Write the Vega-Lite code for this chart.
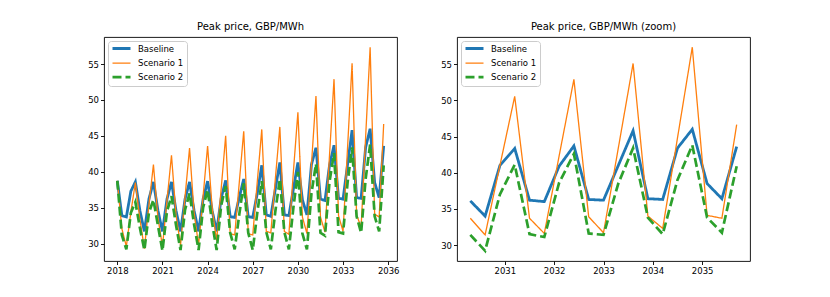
{
 "$schema": "https://vega.github.io/schema/vega-lite/v6.json",
 "padding": {"left": 87, "top": 21, "right": 5, "bottom": 5},
 "datasets": {
  "peak": [
   {"t":2018.0,"s":"Baseline","v":38.75},{"t":2018.3,"s":"Baseline","v":33.9},{"t":2018.6,"s":"Baseline","v":33.7},{"t":2018.9,"s":"Baseline","v":37.3},
   {"t":2019.2,"s":"Baseline","v":38.6},{"t":2019.5,"s":"Baseline","v":34.6},{"t":2019.8,"s":"Baseline","v":31.7},{"t":2020.1,"s":"Baseline","v":36.2},
   {"t":2020.4,"s":"Baseline","v":38.6},{"t":2020.7,"s":"Baseline","v":34.6},{"t":2021.0,"s":"Baseline","v":31.7},{"t":2021.3,"s":"Baseline","v":36.2},
   {"t":2021.6,"s":"Baseline","v":38.6},{"t":2021.9,"s":"Baseline","v":34.6},{"t":2022.2,"s":"Baseline","v":31.7},{"t":2022.5,"s":"Baseline","v":36.2},
   {"t":2022.8,"s":"Baseline","v":38.6},{"t":2023.1,"s":"Baseline","v":34.6},{"t":2023.4,"s":"Baseline","v":31.7},{"t":2023.7,"s":"Baseline","v":36.2},
   {"t":2024.0,"s":"Baseline","v":38.7},{"t":2024.3,"s":"Baseline","v":34.6},{"t":2024.6,"s":"Baseline","v":31.7},{"t":2024.9,"s":"Baseline","v":36.3},
   {"t":2025.2,"s":"Baseline","v":38.8},{"t":2025.5,"s":"Baseline","v":33.75},{"t":2025.8,"s":"Baseline","v":33.65},{"t":2026.1,"s":"Baseline","v":36.4},
   {"t":2026.4,"s":"Baseline","v":39.0},{"t":2026.7,"s":"Baseline","v":33.75},{"t":2027.0,"s":"Baseline","v":33.65},{"t":2027.3,"s":"Baseline","v":37.0},
   {"t":2027.6,"s":"Baseline","v":40.9},{"t":2027.9,"s":"Baseline","v":34.0},{"t":2028.2,"s":"Baseline","v":33.8},{"t":2028.5,"s":"Baseline","v":37.6},
   {"t":2028.8,"s":"Baseline","v":41.3},{"t":2029.1,"s":"Baseline","v":34.0},{"t":2029.4,"s":"Baseline","v":33.9},{"t":2029.7,"s":"Baseline","v":37.6},
   {"t":2030.0,"s":"Baseline","v":41.3},{"t":2030.3,"s":"Baseline","v":36.1},{"t":2030.6,"s":"Baseline","v":34.0},{"t":2030.9,"s":"Baseline","v":41.0},
   {"t":2031.2,"s":"Baseline","v":43.35},{"t":2031.5,"s":"Baseline","v":36.2},{"t":2031.8,"s":"Baseline","v":36.0},{"t":2032.1,"s":"Baseline","v":40.9},
   {"t":2032.4,"s":"Baseline","v":43.7},{"t":2032.7,"s":"Baseline","v":36.3},{"t":2033.0,"s":"Baseline","v":36.2},{"t":2033.3,"s":"Baseline","v":41.0},
   {"t":2033.6,"s":"Baseline","v":45.8},{"t":2033.9,"s":"Baseline","v":36.4},{"t":2034.2,"s":"Baseline","v":36.3},{"t":2034.5,"s":"Baseline","v":43.4},
   {"t":2034.8,"s":"Baseline","v":46.0},{"t":2035.1,"s":"Baseline","v":38.5},{"t":2035.4,"s":"Baseline","v":36.4},{"t":2035.7,"s":"Baseline","v":43.6},

   {"t":2018.0,"s":"Scenario 1","v":38.75},{"t":2018.3,"s":"Scenario 1","v":32.1},{"t":2018.6,"s":"Scenario 1","v":29.6},{"t":2018.9,"s":"Scenario 1","v":34.4},
   {"t":2019.2,"s":"Scenario 1","v":38.5},{"t":2019.5,"s":"Scenario 1","v":33.4},{"t":2019.8,"s":"Scenario 1","v":29.3},{"t":2020.1,"s":"Scenario 1","v":35.4},
   {"t":2020.4,"s":"Scenario 1","v":41.0},{"t":2020.7,"s":"Scenario 1","v":33.6},{"t":2021.0,"s":"Scenario 1","v":29.6},{"t":2021.3,"s":"Scenario 1","v":36.0},
   {"t":2021.6,"s":"Scenario 1","v":42.3},{"t":2021.9,"s":"Scenario 1","v":34.0},{"t":2022.2,"s":"Scenario 1","v":29.8},{"t":2022.5,"s":"Scenario 1","v":36.5},
   {"t":2022.8,"s":"Scenario 1","v":43.3},{"t":2023.1,"s":"Scenario 1","v":34.3},{"t":2023.4,"s":"Scenario 1","v":29.8},{"t":2023.7,"s":"Scenario 1","v":36.6},
   {"t":2024.0,"s":"Scenario 1","v":43.6},{"t":2024.3,"s":"Scenario 1","v":35.0},{"t":2024.6,"s":"Scenario 1","v":30.4},{"t":2024.9,"s":"Scenario 1","v":37.6},
   {"t":2025.2,"s":"Scenario 1","v":45.0},{"t":2025.5,"s":"Scenario 1","v":31.4},{"t":2025.8,"s":"Scenario 1","v":31.2},{"t":2026.1,"s":"Scenario 1","v":38.4},
   {"t":2026.4,"s":"Scenario 1","v":45.65},{"t":2026.7,"s":"Scenario 1","v":31.4},{"t":2027.0,"s":"Scenario 1","v":31.2},{"t":2027.3,"s":"Scenario 1","v":38.6},
   {"t":2027.6,"s":"Scenario 1","v":45.9},{"t":2027.9,"s":"Scenario 1","v":31.7},{"t":2028.2,"s":"Scenario 1","v":31.5},{"t":2028.5,"s":"Scenario 1","v":39.0},
   {"t":2028.8,"s":"Scenario 1","v":46.25},{"t":2029.1,"s":"Scenario 1","v":31.7},{"t":2029.4,"s":"Scenario 1","v":31.3},{"t":2029.7,"s":"Scenario 1","v":40.0},
   {"t":2030.0,"s":"Scenario 1","v":48.3},{"t":2030.3,"s":"Scenario 1","v":33.7},{"t":2030.6,"s":"Scenario 1","v":31.4},{"t":2030.9,"s":"Scenario 1","v":41.0},
   {"t":2031.2,"s":"Scenario 1","v":50.55},{"t":2031.5,"s":"Scenario 1","v":33.7},{"t":2031.8,"s":"Scenario 1","v":31.6},{"t":2032.1,"s":"Scenario 1","v":42.3},
   {"t":2032.4,"s":"Scenario 1","v":52.9},{"t":2032.7,"s":"Scenario 1","v":33.9},{"t":2033.0,"s":"Scenario 1","v":31.7},{"t":2033.3,"s":"Scenario 1","v":43.4},
   {"t":2033.6,"s":"Scenario 1","v":55.1},{"t":2033.9,"s":"Scenario 1","v":34.0},{"t":2034.2,"s":"Scenario 1","v":32.3},{"t":2034.5,"s":"Scenario 1","v":44.8},
   {"t":2034.8,"s":"Scenario 1","v":57.35},{"t":2035.1,"s":"Scenario 1","v":34.1},{"t":2035.4,"s":"Scenario 1","v":33.7},{"t":2035.7,"s":"Scenario 1","v":46.65},

   {"t":2018.0,"s":"Scenario 2","v":38.75},{"t":2018.3,"s":"Scenario 2","v":31.2},{"t":2018.6,"s":"Scenario 2","v":29.2},{"t":2018.9,"s":"Scenario 2","v":34.3},
   {"t":2019.2,"s":"Scenario 2","v":35.8},{"t":2019.5,"s":"Scenario 2","v":32.2},{"t":2019.8,"s":"Scenario 2","v":29.1},{"t":2020.1,"s":"Scenario 2","v":34.3},
   {"t":2020.4,"s":"Scenario 2","v":36.1},{"t":2020.7,"s":"Scenario 2","v":32.5},{"t":2021.0,"s":"Scenario 2","v":29.0},{"t":2021.3,"s":"Scenario 2","v":34.5},
   {"t":2021.6,"s":"Scenario 2","v":36.6},{"t":2021.9,"s":"Scenario 2","v":32.6},{"t":2022.2,"s":"Scenario 2","v":29.1},{"t":2022.5,"s":"Scenario 2","v":34.7},
   {"t":2022.8,"s":"Scenario 2","v":37.0},{"t":2023.1,"s":"Scenario 2","v":32.7},{"t":2023.4,"s":"Scenario 2","v":29.1},{"t":2023.7,"s":"Scenario 2","v":35.0},
   {"t":2024.0,"s":"Scenario 2","v":37.5},{"t":2024.3,"s":"Scenario 2","v":32.9},{"t":2024.6,"s":"Scenario 2","v":29.1},{"t":2024.9,"s":"Scenario 2","v":35.3},
   {"t":2025.2,"s":"Scenario 2","v":38.0},{"t":2025.5,"s":"Scenario 2","v":31.5},{"t":2025.8,"s":"Scenario 2","v":29.2},{"t":2026.1,"s":"Scenario 2","v":34.0},
   {"t":2026.4,"s":"Scenario 2","v":38.4},{"t":2026.7,"s":"Scenario 2","v":31.5},{"t":2027.0,"s":"Scenario 2","v":29.1},{"t":2027.3,"s":"Scenario 2","v":34.3},
   {"t":2027.6,"s":"Scenario 2","v":38.7},{"t":2027.9,"s":"Scenario 2","v":31.6},{"t":2028.2,"s":"Scenario 2","v":29.2},{"t":2028.5,"s":"Scenario 2","v":34.5},
   {"t":2028.8,"s":"Scenario 2","v":39.0},{"t":2029.1,"s":"Scenario 2","v":31.6},{"t":2029.4,"s":"Scenario 2","v":29.2},{"t":2029.7,"s":"Scenario 2","v":35.0},
   {"t":2030.0,"s":"Scenario 2","v":40.0},{"t":2030.3,"s":"Scenario 2","v":31.4},{"t":2030.6,"s":"Scenario 2","v":29.2},{"t":2030.9,"s":"Scenario 2","v":37.0},
   {"t":2031.2,"s":"Scenario 2","v":41.1},{"t":2031.5,"s":"Scenario 2","v":31.5},{"t":2031.8,"s":"Scenario 2","v":31.1},{"t":2032.1,"s":"Scenario 2","v":38.6},
   {"t":2032.4,"s":"Scenario 2","v":42.6},{"t":2032.7,"s":"Scenario 2","v":31.6},{"t":2033.0,"s":"Scenario 2","v":31.4},{"t":2033.3,"s":"Scenario 2","v":38.5},
   {"t":2033.6,"s":"Scenario 2","v":43.4},{"t":2033.9,"s":"Scenario 2","v":33.8},{"t":2034.2,"s":"Scenario 2","v":31.5},{"t":2034.5,"s":"Scenario 2","v":39.0},
   {"t":2034.8,"s":"Scenario 2","v":43.8},{"t":2035.1,"s":"Scenario 2","v":33.8},{"t":2035.4,"s":"Scenario 2","v":31.7},{"t":2035.7,"s":"Scenario 2","v":40.9}
  ]
 },
 "config": {
  "font": "DejaVu Sans",
  "view": {"stroke": "#000", "strokeWidth": 0.9},
  "axis": {"grid": false, "domain": false, "tickColor": "#000", "tickSize": 3.5, "tickWidth": 0.9, "labelFontSize": 8.5, "labelColor": "#000", "labelPadding": 2, "labelFlush": false, "labelOverlap": false, "title": null},
  "title": {"fontSize": 10, "fontWeight": "normal", "color": "#000", "offset": 5, "baseline": "alphabetic"},
  "legend": {"orient": "top-left", "offset": 4, "fillColor": "#fff", "strokeColor": "#ccc", "cornerRadius": 3, "padding": 3, "rowPadding": 3.8, "labelFontSize": 8.5, "labelColor": "#000", "labelOffset": 18, "labelLimit": 0, "symbolType": "M-1,0H5", "symbolSize": 36},
  "concat": {"spacing": 40}
 },
 "resolve": {
  "scale": {"color": "independent", "strokeWidth": "independent", "strokeDash": "independent"},
  "legend": {"color": "independent", "strokeWidth": "independent", "strokeDash": "independent"}
 },
 "hconcat": [
  {
   "title": "Peak price, GBP/MWh",
   "width": 293, "height": 224,
   "data": {"name": "peak"},
   "mark": {"type": "line"},
   "encoding": {
    "x": {"field": "t", "type": "quantitative", "scale": {"domain": [2017.115, 2036.585], "nice": false, "zero": false}, "axis": {"values": [2018, 2021, 2024, 2027, 2030, 2033, 2036], "format": "d"}},
    "y": {"field": "v", "type": "quantitative", "scale": {"domain": [27.58, 58.77], "nice": false, "zero": false}, "axis": {"values": [30, 35, 40, 45, 50, 55]}},
    "color": {"field": "s", "type": "nominal", "scale": {"domain": ["Baseline", "Scenario 1", "Scenario 2"], "range": ["#1f77b4", "#ff7f0e", "#2ca02c"]}, "legend": {"title": null}},
    "strokeWidth": {"field": "s", "type": "nominal", "scale": {"type": "ordinal", "domain": ["Baseline", "Scenario 1", "Scenario 2"], "range": [2.8, 1.3, 2.7]}, "legend": {"title": null}},
    "strokeDash": {"field": "s", "type": "nominal", "scale": {"domain": ["Baseline", "Scenario 1", "Scenario 2"], "range": [[1, 0], [1, 0], [9, 4]]}, "legend": {"title": null}}
   }
  },
  {
   "title": "Peak price, GBP/MWh (zoom)",
   "width": 293, "height": 224,
   "data": {"name": "peak"},
   "transform": [{"filter": "datum.t > 2030.2"}],
   "mark": {"type": "line"},
   "encoding": {
    "x": {"field": "t", "type": "quantitative", "scale": {"domain": [2030.03, 2035.97], "nice": false, "zero": false}, "axis": {"values": [2031, 2032, 2033, 2034, 2035], "format": "d"}},
    "y": {"field": "v", "type": "quantitative", "scale": {"domain": [27.79, 58.76], "nice": false, "zero": false}, "axis": {"values": [30, 35, 40, 45, 50, 55]}},
    "color": {"field": "s", "type": "nominal", "scale": {"domain": ["Baseline", "Scenario 1", "Scenario 2"], "range": ["#1f77b4", "#ff7f0e", "#2ca02c"]}, "legend": {"title": null}},
    "strokeWidth": {"field": "s", "type": "nominal", "scale": {"type": "ordinal", "domain": ["Baseline", "Scenario 1", "Scenario 2"], "range": [2.8, 1.3, 2.7]}, "legend": {"title": null}},
    "strokeDash": {"field": "s", "type": "nominal", "scale": {"domain": ["Baseline", "Scenario 1", "Scenario 2"], "range": [[1, 0], [1, 0], [9, 4]]}, "legend": {"title": null}}
   }
  }
 ]
}
